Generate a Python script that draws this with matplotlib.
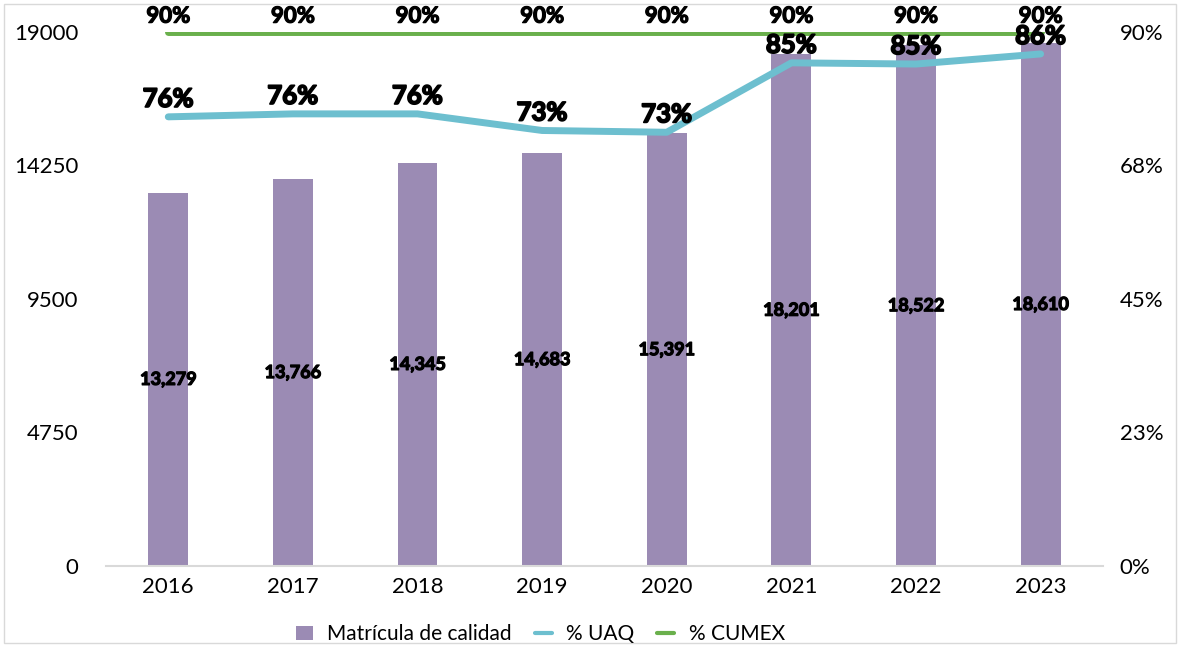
import matplotlib.pyplot as plt
import matplotlib.patheffects as pe
import numpy as np
from matplotlib.patches import Rectangle

years = ["2016", "2017", "2018", "2019", "2020", "2021", "2022", "2023"]
matricula = [13279, 13766, 14345, 14683, 15391, 18201, 18522, 18610]
pct_uaq = [75.7, 76.2, 76.2, 73.4, 73.1, 84.8, 84.6, 86.3]
pct_uaq_labels = ["76%", "76%", "76%", "73%", "73%", "85%", "85%", "86%"]
pct_cumex = [90, 90, 90, 90, 90, 90, 90, 90]

left_ticks = [0, 4750, 9500, 14250, 19000]
right_ticks = [0, 22.5, 45, 67.5, 90]
right_tick_labels = ["0%", "23%", "45%", "68%", "90%"]

BAR = "#9b8bb4"
UAQ = "#6dbfcf"
CUMEX = "#6ab04c"

plt.rcParams["font.family"] = ["Lato", "DejaVu Sans"]

fig = plt.figure(figsize=(11.8, 6.45), dpi=100)
ax = fig.add_axes([0.0898, 0.1225, 0.8449, 0.8279])
ax2 = ax.twinx()

# thicker strokes to get closer to the heavy label font
heavy = [pe.withStroke(linewidth=0.9, foreground="black")]

x = np.arange(len(years))
bars = ax.bar(x, matricula, width=0.32, color=BAR, label="Matrícula de calidad", zorder=2)
for xi, v in zip(x, matricula):
    ax.text(xi, v / 2, f"{v:,}", ha="center", va="center", fontsize=13,
            fontweight="bold", color="black", zorder=5, path_effects=heavy)

ax.set_xlim(-0.5, len(years) - 0.5)
ax.set_ylim(0, 19000)
ax.set_yticks(left_ticks)
ax.set_yticklabels([str(t) for t in left_ticks])
ax.set_xticks(x)
ax.set_xticklabels(years)

ax2.set_ylim(0, 90)
ax2.set_yticks(right_ticks)
ax2.set_yticklabels(right_tick_labels)

l_uaq, = ax2.plot(x, pct_uaq, color=UAQ, lw=5, solid_capstyle="round",
                  solid_joinstyle="round", label="% UAQ", zorder=3)
l_cumex, = ax2.plot(x, pct_cumex, color=CUMEX, lw=5, solid_capstyle="round",
                    label="% CUMEX", zorder=3)

for xi, v, lab in zip(x, pct_uaq, pct_uaq_labels):
    ax2.text(xi, v + 1.0, lab, ha="center", va="bottom", fontsize=18.5,
             fontweight="bold", color="black", zorder=6,
             path_effects=[pe.withStroke(linewidth=1.3, foreground="black")])
for xi, v in zip(x, pct_cumex):
    ax2.text(xi, v + 0.9, f"{v}%", ha="center", va="bottom", fontsize=16,
             fontweight="bold", color="black", zorder=6, path_effects=heavy)

for a in (ax, ax2):
    for s in a.spines.values():
        s.set_visible(False)
    a.tick_params(length=0, labelsize=16, colors="black")
ax.spines["bottom"].set_visible(True)
ax.spines["bottom"].set_color("#d9d9d9")
ax.spines["bottom"].set_linewidth(1.5)
ax.tick_params(axis="y", pad=20)
ax.tick_params(axis="x", pad=8)
ax2.tick_params(axis="y", pad=12)

handles = [bars, l_uaq, l_cumex]
leg = fig.legend(handles, [h.get_label() for h in handles], loc="lower center",
                 bbox_to_anchor=(0.458, -0.028), ncol=3, frameon=False, fontsize=15,
                 handlelength=0.8, handletextpad=0.7, columnspacing=1.1)
for h in leg.legend_handles[1:]:
    h.set_linewidth(3)

fig.patches.append(Rectangle((0.003, 0.003), 0.994, 0.991, transform=fig.transFigure,
                             fill=False, edgecolor="#d9d9d9", lw=1))

fig.savefig("out.png", dpi=100)
